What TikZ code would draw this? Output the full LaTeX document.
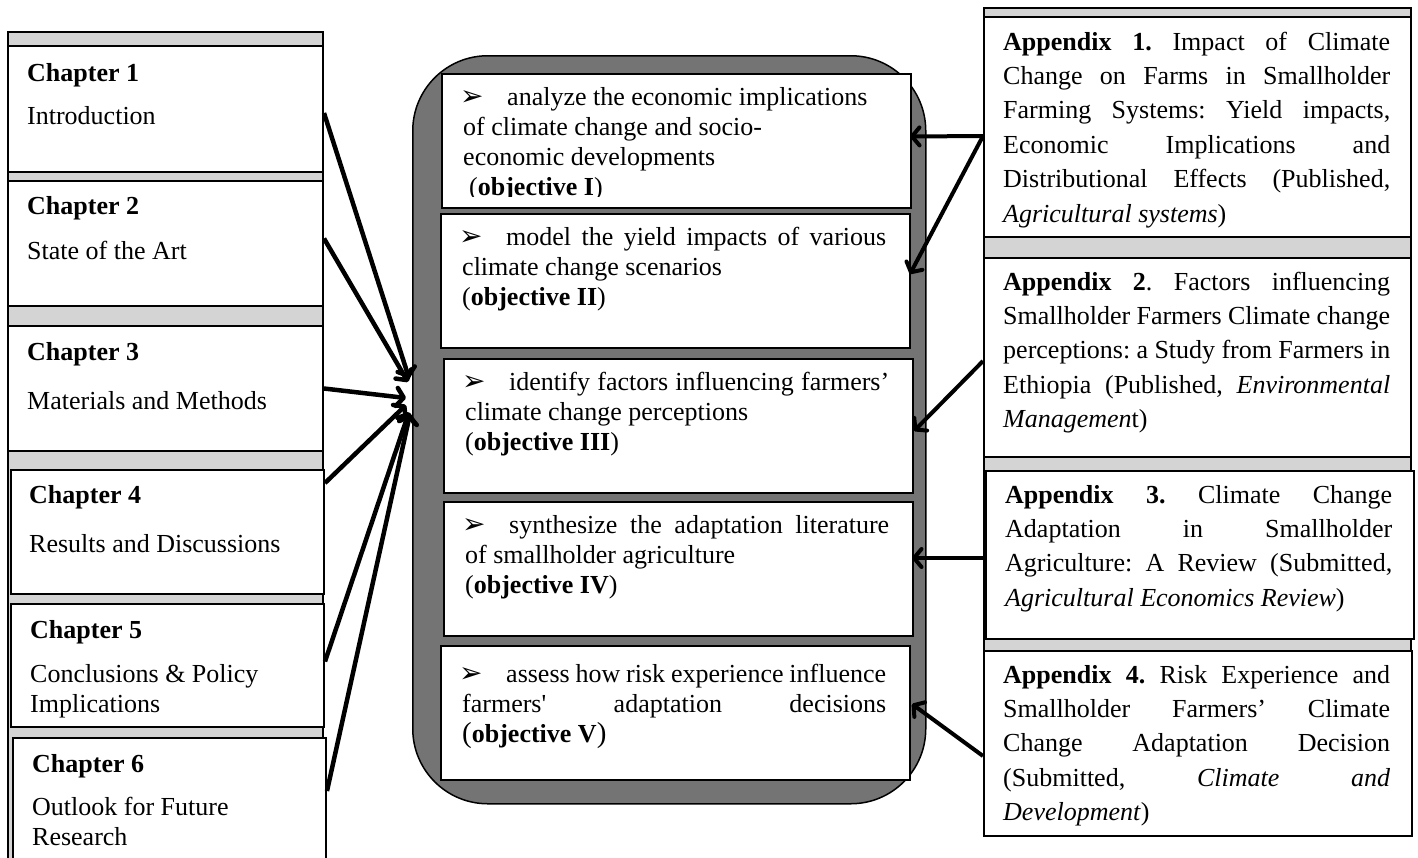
\documentclass[tikz,border=0pt]{standalone}
\usepackage{fontspec}
\setmainfont{Liberation Serif}
\newfontfamily\dejavu{DejaVu Sans}
\newfontfamily\nomap{Liberation Serif}[Ligatures=TeXOff]
\usetikzlibrary{arrows.meta,calc}
\definecolor{stripgray}{RGB}{212,212,212}
\definecolor{hubgray}{RGB}{116,116,116}
\newcommand{\bul}{{\dejavu\fontsize{28}{28}\selectfont ➢}}
\newcommand{\ns}{\spaceskip=0pt\xspaceskip=0pt\relax}
\newcommand{\objstart}{\ns\hangindent=44pt\hangafter=1\noindent\makebox[44pt][l]{\hspace*{-3pt}\bul}}
\frenchspacing
\begin{document}
\begin{tikzpicture}[x=1pt,y=1pt,
  column/.style={draw=black, line width=1.5pt, fill=stripgray, anchor=north west, inner sep=0pt},
  box/.style={draw=black, line width=2pt, fill=white, anchor=north west, inner sep=0pt},
  objbox/.style={draw=black, line width=2pt, fill=white, anchor=north west, inner sep=0pt, minimum width=469pt, minimum height=134pt},
  chtext/.style={anchor=base west, inner sep=0pt, text width=290pt, align=left, font=\fontsize{26}{30}\selectfont\frenchspacing},
  objtext/.style={anchor=base west, inner sep=0pt, text width=424pt, align=justify, font=\fontsize{26}{30}\selectfont\frenchspacing},
  apptext/.style={anchor=base west, inner sep=0pt, text width=387pt, align=justify, font=\fontsize{26}{34.4}\selectfont\frenchspacing},
  larr/.style={line width=4.5pt, -{Straight Barb[length=7pt,width=18pt,round]}},
  rarr/.style={line width=4pt, -{Straight Barb[length=7.5pt,width=18pt,round]}}
]
\useasboundingbox (0,0) rectangle (1418,-857);

% left column
\node[column, minimum width=315pt, minimum height=850pt] (chcol) at (7,-31) {};
\node[box, minimum width=315pt, minimum height=126pt] (ch1) at (7,-45) {};
\node[box, minimum width=315pt, minimum height=125pt] (ch2) at (7,-180) {};
\node[box, minimum width=315pt, minimum height=125pt] (ch3) at (7,-325) {};
\node[box, minimum width=313pt, minimum height=124pt] (ch4) at (10,-469) {};
\node[box, minimum width=313pt, minimum height=123pt] (ch5) at (10,-603) {};
\node[box, minimum width=313pt, minimum height=140pt] (ch6) at (12,-737) {};

\node[chtext] (ch1t) at (27,-81) {\ns\textbf{Chapter 1}\\[13pt]Introduction};
\node[chtext] (ch2t) at (27,-214) {\ns\textbf{Chapter 2}\\[15pt]State of the Art};
\node[chtext] (ch3t) at (27,-360) {\ns\textbf{Chapter 3}\\[19pt]Materials and Methods};
\node[chtext] (ch4t) at (29,-503) {\ns\textbf{Chapter 4}\\[19pt]Results and Discussions};
\node[chtext] (ch5t) at (30,-638) {\ns\textbf{Chapter 5}\\[14pt]Conclusions \& Policy\\Implications};
\node[chtext] (ch6t) at (32,-772) {\ns\textbf{Chapter 6}\\[13pt]Outlook for Future\\Research};

% centre
\node[draw=black, line width=1.5pt, fill=hubgray, rounded corners=75pt, anchor=north west, inner sep=0pt, minimum width=513pt, minimum height=748pt] (hub) at (412,-55) {};
\node[objbox] (obj1) at (441,-73) {};
\node[objbox] (obj2) at (440,-213) {};
\node[objbox] (obj3) at (443,-358) {};
\node[objbox] (obj4) at (443,-501) {};
\node[objbox] (obj5) at (440,-645) {};

\begin{scope}
\clip (441,-73) rectangle (910,-196);
\node[objtext, align=left] (obj1t) at (463,-105) {\objstart analyze the economic implications\\of climate change and socio-\\economic developments\\\hspace*{6pt}(\textbf{objective I})};
\end{scope}
\node[objtext] (obj2t) at (462,-245) {\objstart model the yield impacts of various\linebreak climate change scenarios\\(\textbf{objective II})};
\node[objtext] (obj3t) at (465,-390) {\objstart identify factors influencing farmers’\linebreak climate change perceptions\\(\textbf{objective III})};
\node[objtext] (obj4t) at (465,-533) {\objstart synthesize the adaptation literature\linebreak of smallholder agriculture\\(\textbf{objective IV})};
\node[objtext] (obj5t) at (462,-682) {\objstart assess how risk experience influence\linebreak farmers{\nomap'} adaptation decisions\linebreak {\fontsize{29}{30}\selectfont(}\textbf{objective V}{\fontsize{29}{30}\selectfont)}};

% right column
\node[column, minimum width=427pt, minimum height=828pt] (appcol) at (983,-7) {};
\node[box, minimum width=427pt, minimum height=220pt] (app1) at (983,-16) {};
\node[box, minimum width=427pt, minimum height=199pt] (app2) at (983,-257) {};
\node[box, minimum width=428pt, minimum height=168pt] (app3) at (985,-470) {};
\node[box, minimum width=428pt, minimum height=185pt] (app4) at (983,-650) {};

\node[apptext] (app1t) at (1003,-50) {\textbf{Appendix 1.} Impact of Climate\linebreak Change on Farms in Smallholder\linebreak Farming Systems: Yield impacts,\linebreak Economic Implications and\linebreak Distributional Effects (Published,\linebreak \textit{Agricultural systems})};
\node[apptext] (app2t) at (1003,-290) {\textbf{Appendix 2}. Factors influencing\linebreak Smallholder Farmers Climate change\linebreak perceptions: a Study from Farmers in\linebreak Ethiopia (Published, \textit{Environmental}\linebreak \textit{Managemen}t)};
\node[apptext] (app3t) at (1005,-503) {\textbf{Appendix 3.} Climate Change\linebreak Adaptation in Smallholder\linebreak Agriculture: A Review (Submitted,\linebreak \textit{Agricultural Economics Review})};
\node[apptext] (app4t) at (1003,-683) {\textbf{Appendix 4.} Risk Experience and\linebreak Smallholder Farmers’ Climate\linebreak Change Adaptation Decision\linebreak (Submitted, \textit{Climate and}\linebreak \textit{Development})};

% arrow tips near hub
\coordinate (t1) at (409,-378);
\coordinate (t2) at (408,-382);
\coordinate (t3) at (406,-398);
\coordinate (t4) at (406,-405);
\coordinate (t5) at (409,-412);
\coordinate (t6) at (410,-414);

\draw[larr] ([yshift=-4pt]ch1.east) -- (t1);
\draw[larr] ([yshift=5pt]ch2.east) -- (t2);
\draw[larr] (ch3.east) -- (t3);
\draw[larr] ([yshift=49pt]ch4.east) -- (t4);
\draw[larr] ([yshift=4pt]ch5.east) -- (t5);
\draw[larr] ([yshift=17pt]ch6.east) -- (t6);

\draw[rarr] ([yshift=-9pt]app1.west) -- ([xshift=-2pt,yshift=4.5pt]obj1.east);
\draw[rarr] ([yshift=-9pt]app1.west) -- ([xshift=-1pt,yshift=7pt]obj2.east);
\draw[rarr] ([yshift=-3.5pt]app2.west) -- ([yshift=-5pt]obj3.east);
\draw[rarr] ([xshift=-2pt,yshift=-3pt]app3.west) -- ([xshift=-2pt,yshift=11pt]obj4.east);
\draw[rarr] ([yshift=-12.5pt]app4.west) -- ([xshift=1pt,yshift=9pt]obj5.east);
\end{tikzpicture}
\end{document}
